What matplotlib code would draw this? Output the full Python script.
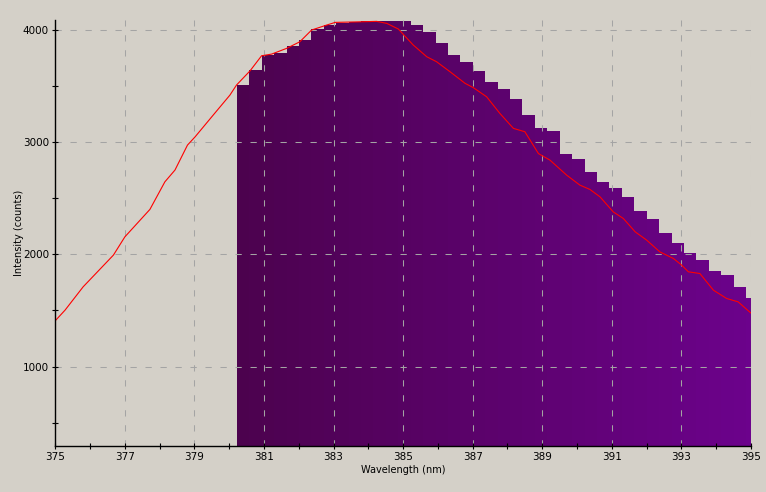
import numpy as np
import matplotlib
matplotlib.use('Agg')
import matplotlib.pyplot as plt
from matplotlib.colors import to_rgb

# binned spectrum (bars)
bin_start = 380.22
bin_width = 0.357
bin_counts = [3512, 3646, 3780, 3797, 3860, 3913, 4012, 4047, 4065, 4074,
              4085, 4085, 4085, 4085, 4047, 3985, 3887, 3780, 3717, 3637,
              3539, 3476, 3387, 3243, 3127, 3100, 2895, 2851, 2735, 2646,
              2592, 2512, 2387, 2315, 2190, 2101, 2012, 1949, 1851, 1815,
              1708, 1610]

# continuous spectrum (red line)
line_wl = [375.00, 375.28, 375.80, 376.67, 377.00, 377.72, 378.15, 378.44,
           378.80, 379.02, 379.54, 380.02, 380.21, 380.60, 380.93, 381.22,
           381.65, 382.03, 382.37, 382.80, 383.05, 383.64, 384.24, 384.53,
           384.86, 385.29, 385.68, 385.96, 386.35, 386.78, 387.02, 387.40,
           387.78, 388.17, 388.50, 388.89, 389.22, 389.70, 390.08, 390.37,
           390.66, 391.04, 391.33, 391.67, 392.00, 392.38, 392.77, 393.01,
           393.20, 393.53, 393.92, 394.30, 394.63, 394.99]
line_counts = [1409, 1503, 1711, 1994, 2157, 2402, 2648, 2753,
               2976, 3050, 3244, 3422, 3512, 3639, 3773, 3788,
               3839, 3898, 4003, 4047, 4071, 4075, 4080, 4062,
               4012, 3869, 3764, 3720, 3630, 3527, 3488, 3407,
               3259, 3125, 3095, 2900, 2842, 2708, 2619, 2580,
               2514, 2380, 2321, 2202, 2128, 2023, 1964, 1904,
               1845, 1830, 1681, 1607, 1577, 1479]

bg = '#d4d0c8'
plt.rcParams['lines.scale_dashes'] = False

fig = plt.figure(figsize=(7.66, 4.92), dpi=100, facecolor=bg)
ax = fig.add_axes([0.0722, 0.0945, 0.9082, 0.8648], facecolor=bg)

# purple gradient from left to right
c0 = np.array(to_rgb('#4c024e'))
c1 = np.array(to_rgb('#6c028c'))
n = len(bin_counts)
lefts = bin_start + bin_width * np.arange(n)
colors = [tuple(c0 + (c1 - c0) * i / (n - 1)) for i in range(n)]
ax.bar(lefts, bin_counts, width=bin_width, align='edge', color=colors,
       edgecolor='none', linewidth=0, zorder=1)

ax.plot(line_wl, line_counts, color='#ff0000', linewidth=0.8, zorder=3)

ax.set_xlim(375, 395)
ax.set_ylim(295, 4092)
ax.set_xticks(np.arange(375, 396, 2))
ax.set_xticks(np.arange(375, 396, 1), minor=True)
ax.set_yticks([1000, 2000, 3000, 4000])
ax.set_yticks(np.arange(500, 4001, 500), minor=True)

ax.grid(True, which='major', color='#a4a4a4', linestyle=(0, (4.5, 6.3)),
        linewidth=0.75, zorder=2)
ax.set_axisbelow(False)

for s in ['top', 'right']:
    ax.spines[s].set_visible(False)
for s in ['left', 'bottom']:
    ax.spines[s].set_linewidth(1.0)
    ax.spines[s].set_color('black')
    ax.spines[s].set_zorder(4)

ax.tick_params(which='both', direction='inout', length=5, width=0.8,
               labelsize=7.5, colors='black', pad=2)
ax.tick_params(which='minor', labelsize=0)

ax.set_xlabel('Wavelength (nm)', fontsize=7, labelpad=2)
ax.set_ylabel('Intensity (counts)', fontsize=7, labelpad=-1)

fig.savefig('out.png', dpi=100, facecolor=bg)
